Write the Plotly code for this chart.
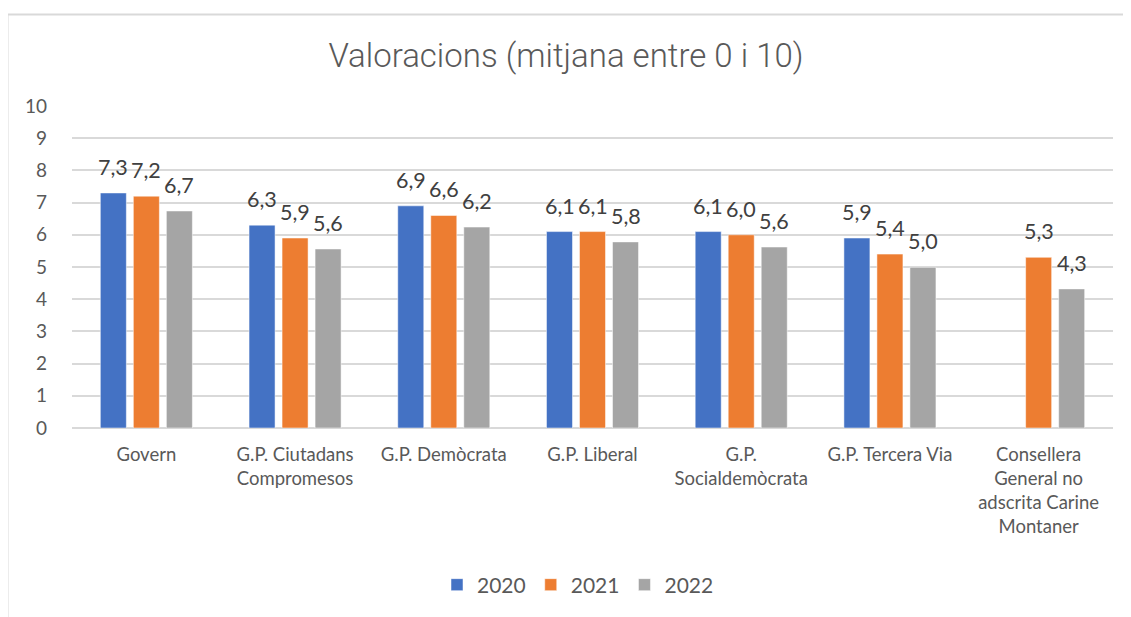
import plotly.graph_objects as go

categories = [
    "Govern",
    "G.P. Ciutadans<br>Compromesos",
    "G.P. Demòcrata",
    "G.P. Liberal",
    "G.P.<br>Socialdemòcrata",
    "G.P. Tercera Via",
    "Consellera<br>General no<br>adscrita Carine<br>Montaner",
]
years = ["2020", "2021", "2022"]
vals_2020 = [7.3, 6.3, 6.9, 6.1, 6.1, 5.9, None]
vals_2021 = [7.2, 5.9, 6.6, 6.1, 6.0, 5.4, 5.3]
vals_2022 = [6.74, 5.56, 6.24, 5.78, 5.62, 4.99, 4.32]
colors = ["#4472C4", "#ED7D31", "#A5A5A5"]

label_font = "Lato, 'Open Sans', sans-serif"

# page body adds an 8px margin, so work in screenshot pixels and shift
OFF = 8
W, H = 1131, 617
L, R, T, B = 72 - OFF, 18 + OFF, 106 - OFF, 189 + OFF
pw = W - L - R
ph = H - T - B

def px_x(px):
    return (px - OFF - L) / pw

def px_y(py):
    return (H - B - (py - OFF)) / ph

fig = go.Figure()
series = [vals_2020, vals_2021, vals_2022]
for name, vals, col in zip(years, series, colors):
    fig.add_trace(go.Bar(
        x=categories,
        y=vals,
        name=name,
        marker=dict(color=col, line=dict(color="white", width=0.5)),
    ))

# value labels sit a bit higher above the bars than plotly's own outside text
pitch = 33
for i, (vals, shift) in enumerate(zip(series, [-pitch, 0, pitch])):
    for cat, v in zip(categories, vals):
        if v is None:
            continue
        fig.add_annotation(
            x=cat, y=v, xref="x", yref="y",
            text=f"{v:.1f}".replace(".", ","),
            showarrow=False,
            xshift=shift, yshift=11,
            yanchor="bottom",
            font=dict(family=label_font, size=21.5, color="#404040"),
        )

# light chart frame like the original
frame = dict(color="#d9d9d9", width=2)
fig.add_shape(type="line", xref="paper", yref="paper",
              x0=px_x(7.5), x1=px_x(7.5), y0=px_y(14.5), y1=px_y(630), line=frame)
fig.add_shape(type="line", xref="paper", yref="paper",
              x0=px_x(7.5), x1=px_x(1145), y0=px_y(14.5), y1=px_y(14.5), line=frame)

fig.update_layout(
    width=W, height=H,
    margin=dict(l=L, r=R, t=T, b=B),
    paper_bgcolor="white",
    plot_bgcolor="white",
    barmode="group",
    bargap=0.334,
    bargroupgap=0.212,
    showlegend=True,
    title=dict(
        text="Valoracions (mitjana entre 0 i 10)",
        x=(566 - OFF) / W, xanchor="center",
        y=1 - (55 - OFF) / H, yanchor="middle",
        font=dict(family="Roboto, sans-serif", size=33, weight=300, color="#595959"),
    ),
    legend=dict(
        orientation="h",
        x=px_x(578), xanchor="center",
        y=px_y(585), yanchor="middle",
        font=dict(family=label_font, size=21, color="#595959"),
        traceorder="normal",
    ),
    xaxis=dict(
        showgrid=False,
        showline=False,
        ticks="",
        tickfont=dict(family=label_font, size=18.5, color="#595959"),
        ticklabelstandoff=13,
    ),
    yaxis=dict(
        range=[0, 10],
        dtick=1,
        showgrid=True,
        gridcolor="#d9d9d9",
        gridwidth=1.5,
        zeroline=True,
        zerolinecolor="#d9d9d9",
        zerolinewidth=1.5,
        showline=False,
        ticks="",
        ticklabelstandoff=24,
        tickfont=dict(family=label_font, size=19, color="#595959"),
    ),
)

fig.write_html("out.html")
